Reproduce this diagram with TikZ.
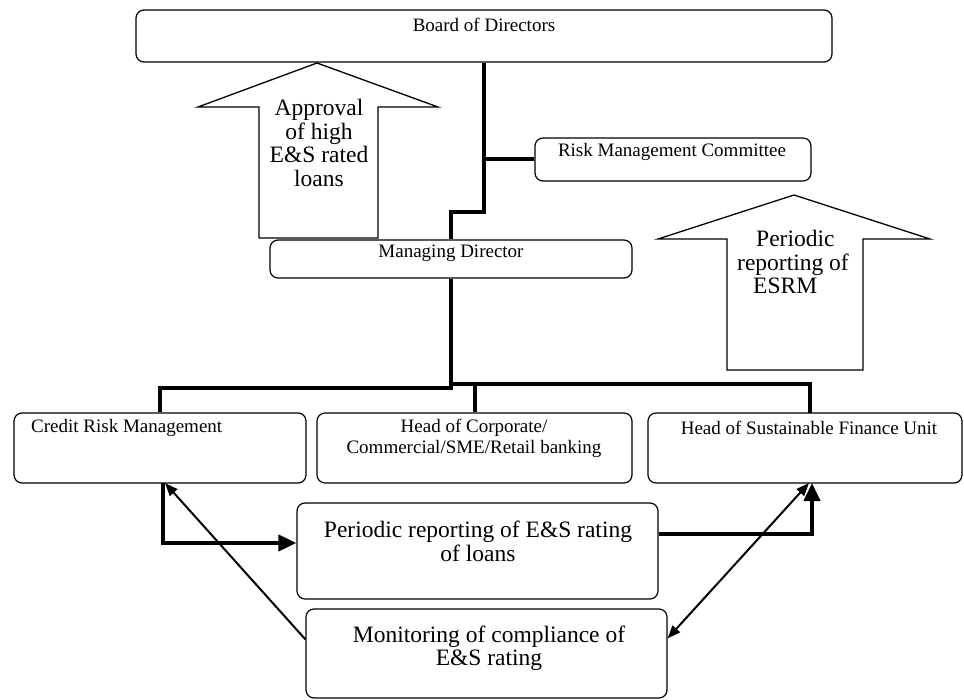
\documentclass[tikz,border=0pt]{standalone}
\usepackage{fontspec}
\setmainfont{Liberation Serif}
\usetikzlibrary{arrows.meta}
\begin{document}
\begin{tikzpicture}[x=1pt,y=-1pt,
  box/.style={draw, rounded corners=8pt, line width=1.2pt, inner sep=0pt},
  smalltxt/.style={font=\fontsize{19}{21}\selectfont, inner sep=0pt, align=center},
  bigtxt/.style={font=\fontsize{23.5}{23.5}\selectfont, inner sep=0pt, align=center},
  thickline/.style={line width=4pt},
  thickarrow/.style={line width=4pt, -{Triangle[length=18pt,width=16pt]}},
  thinarrow/.style={line width=2pt, -{Triangle[length=13pt,width=10pt]}},
  boththin/.style={line width=2pt, {Triangle[length=13pt,width=10pt]}-{Triangle[length=13pt,width=10pt]}},
  bigarrow/.style={draw, line width=1.3pt, fill=white, line join=miter}]
\useasboundingbox (0,0) rectangle (964,700);

% block arrows
\draw[bigarrow] (259,238) -- (259,107) -- (198,107) -- (317,63) -- (438,107) -- (378,107) -- (378,238) -- cycle;
\node[bigtxt] (apptxt) at (319,143) {Approval\\of high\\E\&S rated\\loans};
\draw[bigarrow] (727,370) -- (727,239) -- (658,239) -- (794,195) -- (930,239) -- (863,239) -- (863,370) -- cycle;
\node[bigtxt, align=left, anchor=west] (esrmtxt) at (737,262) {\hspace{19pt}Periodic\\reporting of\\\hspace{16pt}ESRM};

% boxes
\node[box, minimum width=696pt, minimum height=52pt] (board) at (484,36) {};
\node[smalltxt] (boardtxt) at (484,25) {Board of Directors};
\node[box, minimum width=276pt, minimum height=43pt] (rmc) at (673,159.5) {};
\node[smalltxt] (rmctxt) at (672,152) {Risk Management Committee};
\node[box, minimum width=362pt, minimum height=38pt] (md) at (451,259) {};
\node[smalltxt] (mdtxt) at (451,253) {Managing Director};
\node[box, minimum width=292pt, minimum height=70pt] (credit) at (160,448) {};
\node[smalltxt, anchor=west] (credittxt) at (31,428) {Credit Risk Management};
\node[box, minimum width=315pt, minimum height=70pt] (hcorp) at (474.5,448) {};
\node[smalltxt] (hcorptxt) at (474,438.5) {Head of Corporate/\\Commercial/SME/Retail banking};
\node[box, minimum width=314pt, minimum height=70pt] (hsfu) at (805,448) {};
\node[smalltxt] (hsfutxt) at (809,428) {Head of Sustainable Finance Unit};
\node[box, minimum width=361pt, minimum height=96pt] (per) at (477.5,551) {};
\node[bigtxt] (pertxt) at (478,541.5) {Periodic reporting of E\&S rating\\of loans};
\node[box, minimum width=361pt, minimum height=89pt] (mon) at (486.5,653.5) {};
\node[bigtxt] (montxt) at (489,648.5) {Monitoring of compliance of\\E\&S rating};

% hierarchy lines
\coordinate (j1) at (484,212);
\draw[thickline] (board.south) -- (j1) -| (md.north);
\draw[thickline] (rmc.west) -- (rmc.west -| board.south);
\coordinate (busL) at (451,388);
\draw[thickline] (md.south) -- (busL) -| (credit.north);
\coordinate (busR) at (451,384);
\coordinate (hsfuTop) at (810,413);
\draw[thickline] (busR) -| (hsfuTop);
\draw[thickline] (hcorp.north) -- (hcorp.north |- busR);

% flow arrows
\coordinate (credB) at (163,483);
\draw[thickarrow] (credB) |- ([yshift=8pt]per.west);
\coordinate (hsfuB) at (812,483);
\draw[thickarrow] ([yshift=17pt]per.east) -| (hsfuB);
\coordinate (credA) at (165,483);
\draw[thinarrow] ([yshift=-31pt]mon.north west) -- (credA);
\coordinate (hsfuA) at (809,483);
\draw[boththin] (hsfuA) -- ([yshift=-30pt]mon.north east);
\end{tikzpicture}
\end{document}
